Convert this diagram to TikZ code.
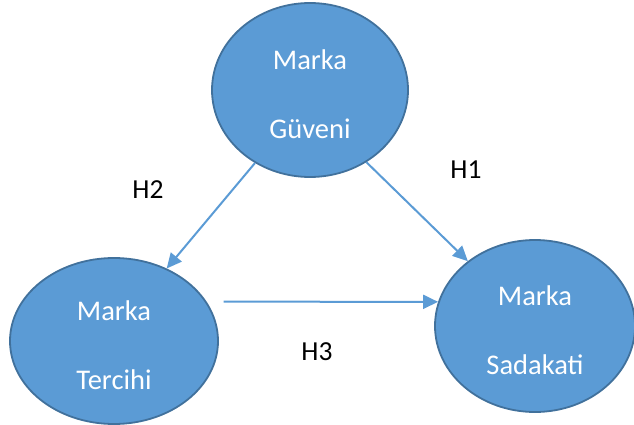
\documentclass[tikz,border=0pt]{standalone}
\usepackage{fontspec}
\setmainfont{Carlito}
\usetikzlibrary{shapes.geometric,arrows.meta}
\definecolor{bfill}{HTML}{5B9BD5}
\definecolor{bedge}{HTML}{41719C}
\newcommand{\topstrut}{\rule{0pt}{29pt}}
\tikzset{
  bubble/.style={ellipse, draw=bedge, fill=bfill, line width=1.8pt, inner sep=0pt,
    text=white, align=center, font=\fontsize{28.5}{69}\selectfont},
  arr/.style={draw=bfill, line width=2pt, -{Triangle[length=15pt,width=14pt]}},
  hyp/.style={font=\fontsize{27.5}{32}\selectfont, text=black, inner sep=0pt}
}
\begin{document}
\begin{tikzpicture}[x=1pt,y=-1pt]
\useasboundingbox (0,0) rectangle (634,425);
\node[bubble, minimum width=196pt, minimum height=174pt] (guven) at (310,90) {\topstrut Marka\\Güveni};
\node[bubble, minimum width=208pt, minimum height=166pt] (tercih) at (114,341) {\topstrut Marka\\Tercihi};
\node[bubble, minimum width=200pt, minimum height=172pt] (sadak) at (535,326) {\topstrut Marka\\Sadakati};
\draw[arr] (guven.233.5) -- (tercih.54);
\draw[arr] (guven.-52.5) -- (sadak.136.3);
\draw[arr] ([xshift=17pt]tercih.23.7) -- (sadak.166.4);
\node[hyp] (h1) at (466,170) {H1};
\node[hyp] (h2) at (148,190) {H2};
\node[hyp] (h3) at (317,352) {H3};
\end{tikzpicture}
\end{document}
